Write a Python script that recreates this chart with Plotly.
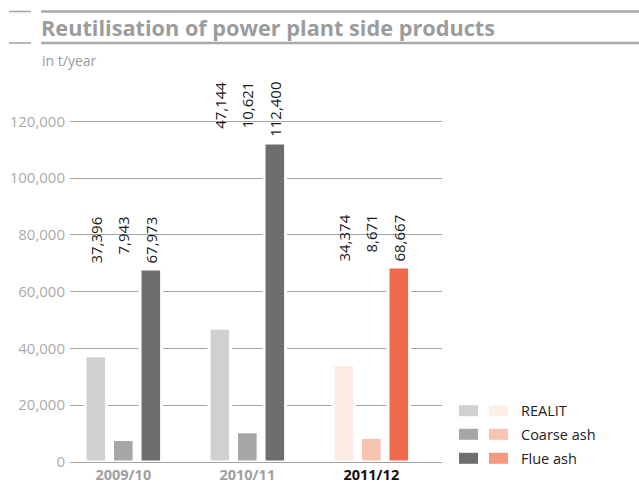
import plotly.graph_objects as go

# ---------------- data ----------------
years = ["2009/10", "2010/11", "2011/12"]
products = ["REALIT", "Coarse ash", "Flue ash"]
realit = [37396, 47144, 34374]
coarse_ash = [7943, 10621, 8671]
flue_ash = [67973, 112400, 68667]
series = [realit, coarse_ash, flue_ash]

y_ticks = [0, 20000, 40000, 60000, 80000, 100000, 120000]

# colours: grey for past years, orange for the current year
gray_colors = ["#d0d1d0", "#a6a6a6", "#6e6e6c"]
orange_colors = ["#fdece4", "#f8c4b0", "#ef6a4c"]
legend_orange = ["#fdefe8", "#f9c5b2", "#f39a7e"]
highlight_year = "2011/12"

# ---------------- layout geometry ----------------
W, H = 639, 485
L, R, T, B = 70, 197, 93, 23
PW, PH = W - L - R, H - T - B
BARGAP = 0.335
BARGROUPGAP = 0.215
FONT = "Open Sans"


def xp(px):
    return (px - L) / PW


def yp(py):
    return (H - B - py) / PH


fig = go.Figure()

for k, (name, vals) in enumerate(zip(products, series)):
    colors = [orange_colors[k] if y == highlight_year else gray_colors[k] for y in years]
    fig.add_trace(go.Bar(
        x=years, y=vals, name=name,
        marker=dict(color=colors, line=dict(color="white", width=3)),
        showlegend=False, hoverinfo="x+y+name",
    ))

# value labels, rotated, top-aligned per group
slot = (1 - BARGAP) / len(products)
label_size = 15


def est_len(txt):
    w = 0
    for ch in txt:
        w += 0.264 if ch == "," else 0.572
    return w * label_size + 2


annotations = []
for g, yr in enumerate(years):
    vals = [s[g] for s in series]
    vmax = max(vals)
    shift = 6 + est_len(f"{vmax:,}")
    for k, v in enumerate(vals):
        annotations.append(dict(
            x=g + (k - 1) * slot, y=vmax, xref="x", yref="y",
            text=f"{v:,}", textangle=-90, showarrow=False,
            xanchor="center", yanchor="top", yshift=shift,
            font=dict(family=FONT, size=label_size, color="#1a1a1a"),
        ))

# subtitle
annotations.append(dict(
    x=xp(40), y=yp(60), xref="paper", yref="paper", text="in t/year",
    showarrow=False, xanchor="left", yanchor="middle",
    font=dict(family=FONT, size=14, color="#9a9a9a"),
))

# legend (two swatches per entry: past years / current year)
legend_rows = [410.7, 434.3, 458.3]
shapes = []
for k, name in enumerate(products):
    cy = legend_rows[k]
    shapes.append(dict(type="rect", xref="paper", yref="paper",
                       x0=xp(459), x1=xp(478), y0=yp(cy + 5.5), y1=yp(cy - 5.5),
                       fillcolor=gray_colors[k], line=dict(width=0)))
    shapes.append(dict(type="rect", xref="paper", yref="paper",
                       x0=xp(489), x1=xp(508), y0=yp(cy + 5.5), y1=yp(cy - 5.5),
                       fillcolor=legend_orange[k], line=dict(width=0)))
    annotations.append(dict(
        x=xp(519), y=yp(cy), xref="paper", yref="paper", text=name,
        showarrow=False, xanchor="left", yanchor="middle",
        font=dict(family=FONT, size=14.5, color="#222222"),
    ))

# title rules
rule_color = "#a8a8a8"
for y_line, wl, ws in [(11.5, 2.5, 1.6), (43, 2.7, 1.6)]:
    shapes.append(dict(type="line", xref="paper", yref="paper",
                       x0=xp(41), x1=xp(639), y0=yp(y_line), y1=yp(y_line),
                       line=dict(color=rule_color, width=wl)))
    shapes.append(dict(type="line", xref="paper", yref="paper",
                       x0=xp(9), x1=xp(31), y0=yp(y_line), y1=yp(y_line),
                       line=dict(color=rule_color, width=ws)))

tick_text = [
    f'<span style="color:#111111">{y}</span>' if y == highlight_year else y
    for y in years
]

fig.update_layout(
    width=W, height=H,
    margin=dict(l=L, r=R, t=T, b=B, pad=0, autoexpand=False),
    paper_bgcolor="white", plot_bgcolor="white",
    barmode="group", bargap=BARGAP, bargroupgap=BARGROUPGAP,
    title=dict(text="<b>Reutilisation of power plant side products</b>",
               x=41 / W, xanchor="left", xref="container",
               y=1 - 28 / H, yanchor="middle", yref="container",
               font=dict(family=FONT, size=21.7, color="#9c9c9c")),
    xaxis=dict(type="category", range=[-0.43, 2.57], showgrid=False,
               showline=False, zeroline=False, ticks="", automargin=False,
               ticklabelstandoff=2,
               tickvals=years, ticktext=tick_text,
               tickfont=dict(family=FONT, size=14.5, color="#a0a0a0", weight="bold")),
    yaxis=dict(range=[0, 130000], tickvals=y_ticks, tickformat=",",
               showgrid=True, gridcolor="#a3a3a3", gridwidth=1,
               zeroline=True, zerolinecolor="#a3a3a3", zerolinewidth=1,
               showline=False, ticks="", ticklabelstandoff=4, automargin=False,
               tickfont=dict(family=FONT, size=15, color="#ababab")),
    annotations=annotations, shapes=shapes,
    showlegend=False,
)

fig.write_html(
    "out.html",
    config={"displayModeBar": False},
    post_script="document.body.style.margin='0';document.body.style.overflow='hidden';",
)
